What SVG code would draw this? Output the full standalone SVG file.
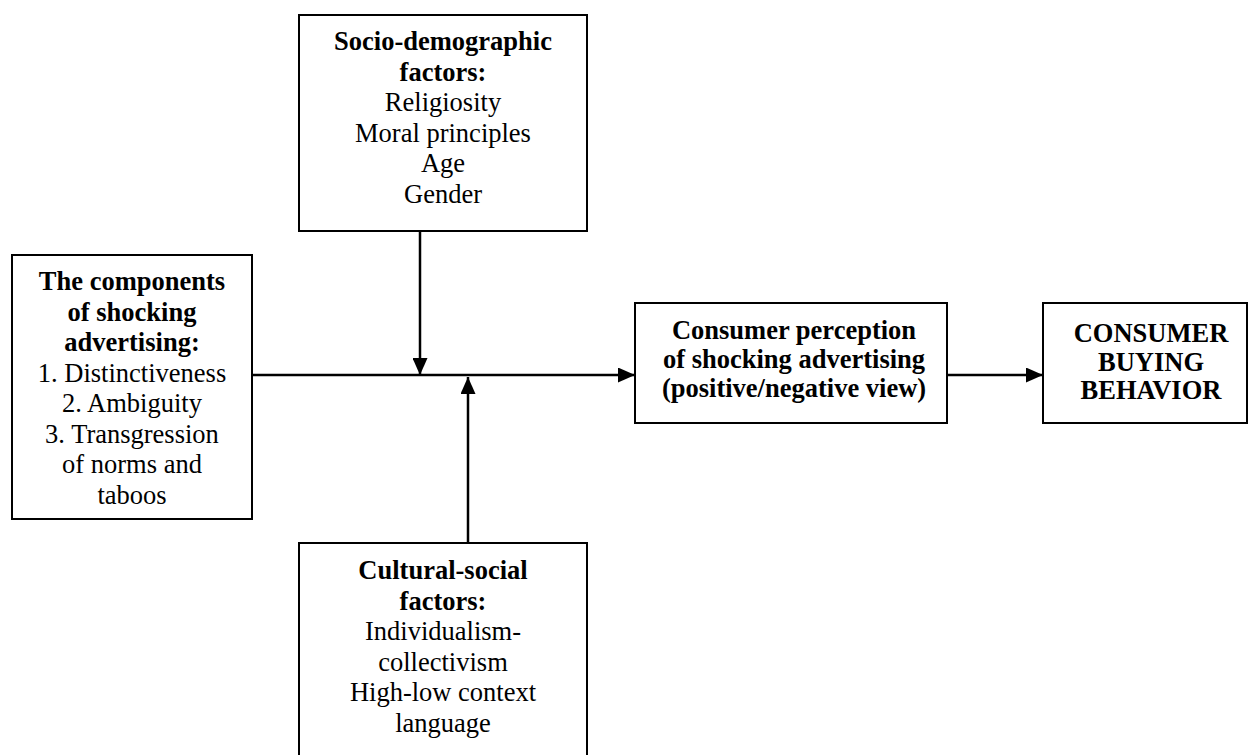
<svg xmlns="http://www.w3.org/2000/svg" width="1248" height="755" viewBox="0 0 1248 755">
<style>
.box{fill:#fff;stroke:#000;stroke-width:2}
text{font-family:"Liberation Serif","Times New Roman",serif;font-size:26.5px;fill:#000;text-anchor:middle}
.b{font-weight:bold}
.c{fill:none;stroke:#000;stroke-width:2.5}
</style>
<defs>
<marker id="ah" markerUnits="userSpaceOnUse" markerWidth="17" markerHeight="15" refX="17" refY="7.5" orient="auto">
<path d="M0,0 L17,7.5 L0,15 z" fill="#000"/>
</marker>
</defs>
<rect width="1248" height="755" fill="#fff"/>
<g id="connectors">
<line class="c" x1="252" y1="375" x2="635" y2="375" marker-end="url(#ah)"/>
<line class="c" x1="420" y1="231" x2="420" y2="375" marker-end="url(#ah)"/>
<line class="c" x1="468" y1="543" x2="468" y2="377" marker-end="url(#ah)"/>
<line class="c" x1="947" y1="375" x2="1043" y2="375" marker-end="url(#ah)"/>
</g>
<g id="socio">
<rect class="box" x="299" y="15" width="288" height="216"/>
<text x="443" y="50" class="b">Socio-demographic</text>
<text x="443" y="80.5" class="b">factors:</text>
<text x="443" y="111">Religiosity</text>
<text x="443" y="141.5">Moral principles</text>
<text x="443" y="172">Age</text>
<text x="443" y="202.5">Gender</text>
</g>
<g id="components">
<rect class="box" x="12" y="255" width="240" height="264"/>
<text x="132" y="290" class="b">The components</text>
<text x="132" y="320.5" class="b">of shocking</text>
<text x="132" y="351" class="b">advertising:</text>
<text x="132" y="381.5">1. Distinctiveness</text>
<text x="132" y="412">2. Ambiguity</text>
<text x="132" y="442.5">3. Transgression</text>
<text x="132" y="473">of norms and</text>
<text x="132" y="503.5">taboos</text>
</g>
<g id="cultural">
<rect class="box" x="299" y="543" width="288" height="230"/>
<text x="443" y="579" class="b">Cultural-social</text>
<text x="443" y="609.5" class="b">factors:</text>
<text x="443" y="640">Individualism-</text>
<text x="443" y="670.5">collectivism</text>
<text x="443" y="701">High-low context</text>
<text x="443" y="731.5">language</text>
</g>
<g id="perception">
<rect class="box" x="635" y="303" width="312" height="120"/>
<text x="794" y="339" class="b">Consumer perception</text>
<text x="794" y="368" class="b">of shocking advertising</text>
<text x="794" y="397" class="b">(positive/negative view)</text>
</g>
<g id="buying">
<rect class="box" x="1043" y="303" width="204" height="120"/>
<text x="1151" y="342" class="b">CONSUMER</text>
<text x="1151" y="370.5" class="b">BUYING</text>
<text x="1151" y="399" class="b">BEHAVIOR</text>
</g>
</svg>
